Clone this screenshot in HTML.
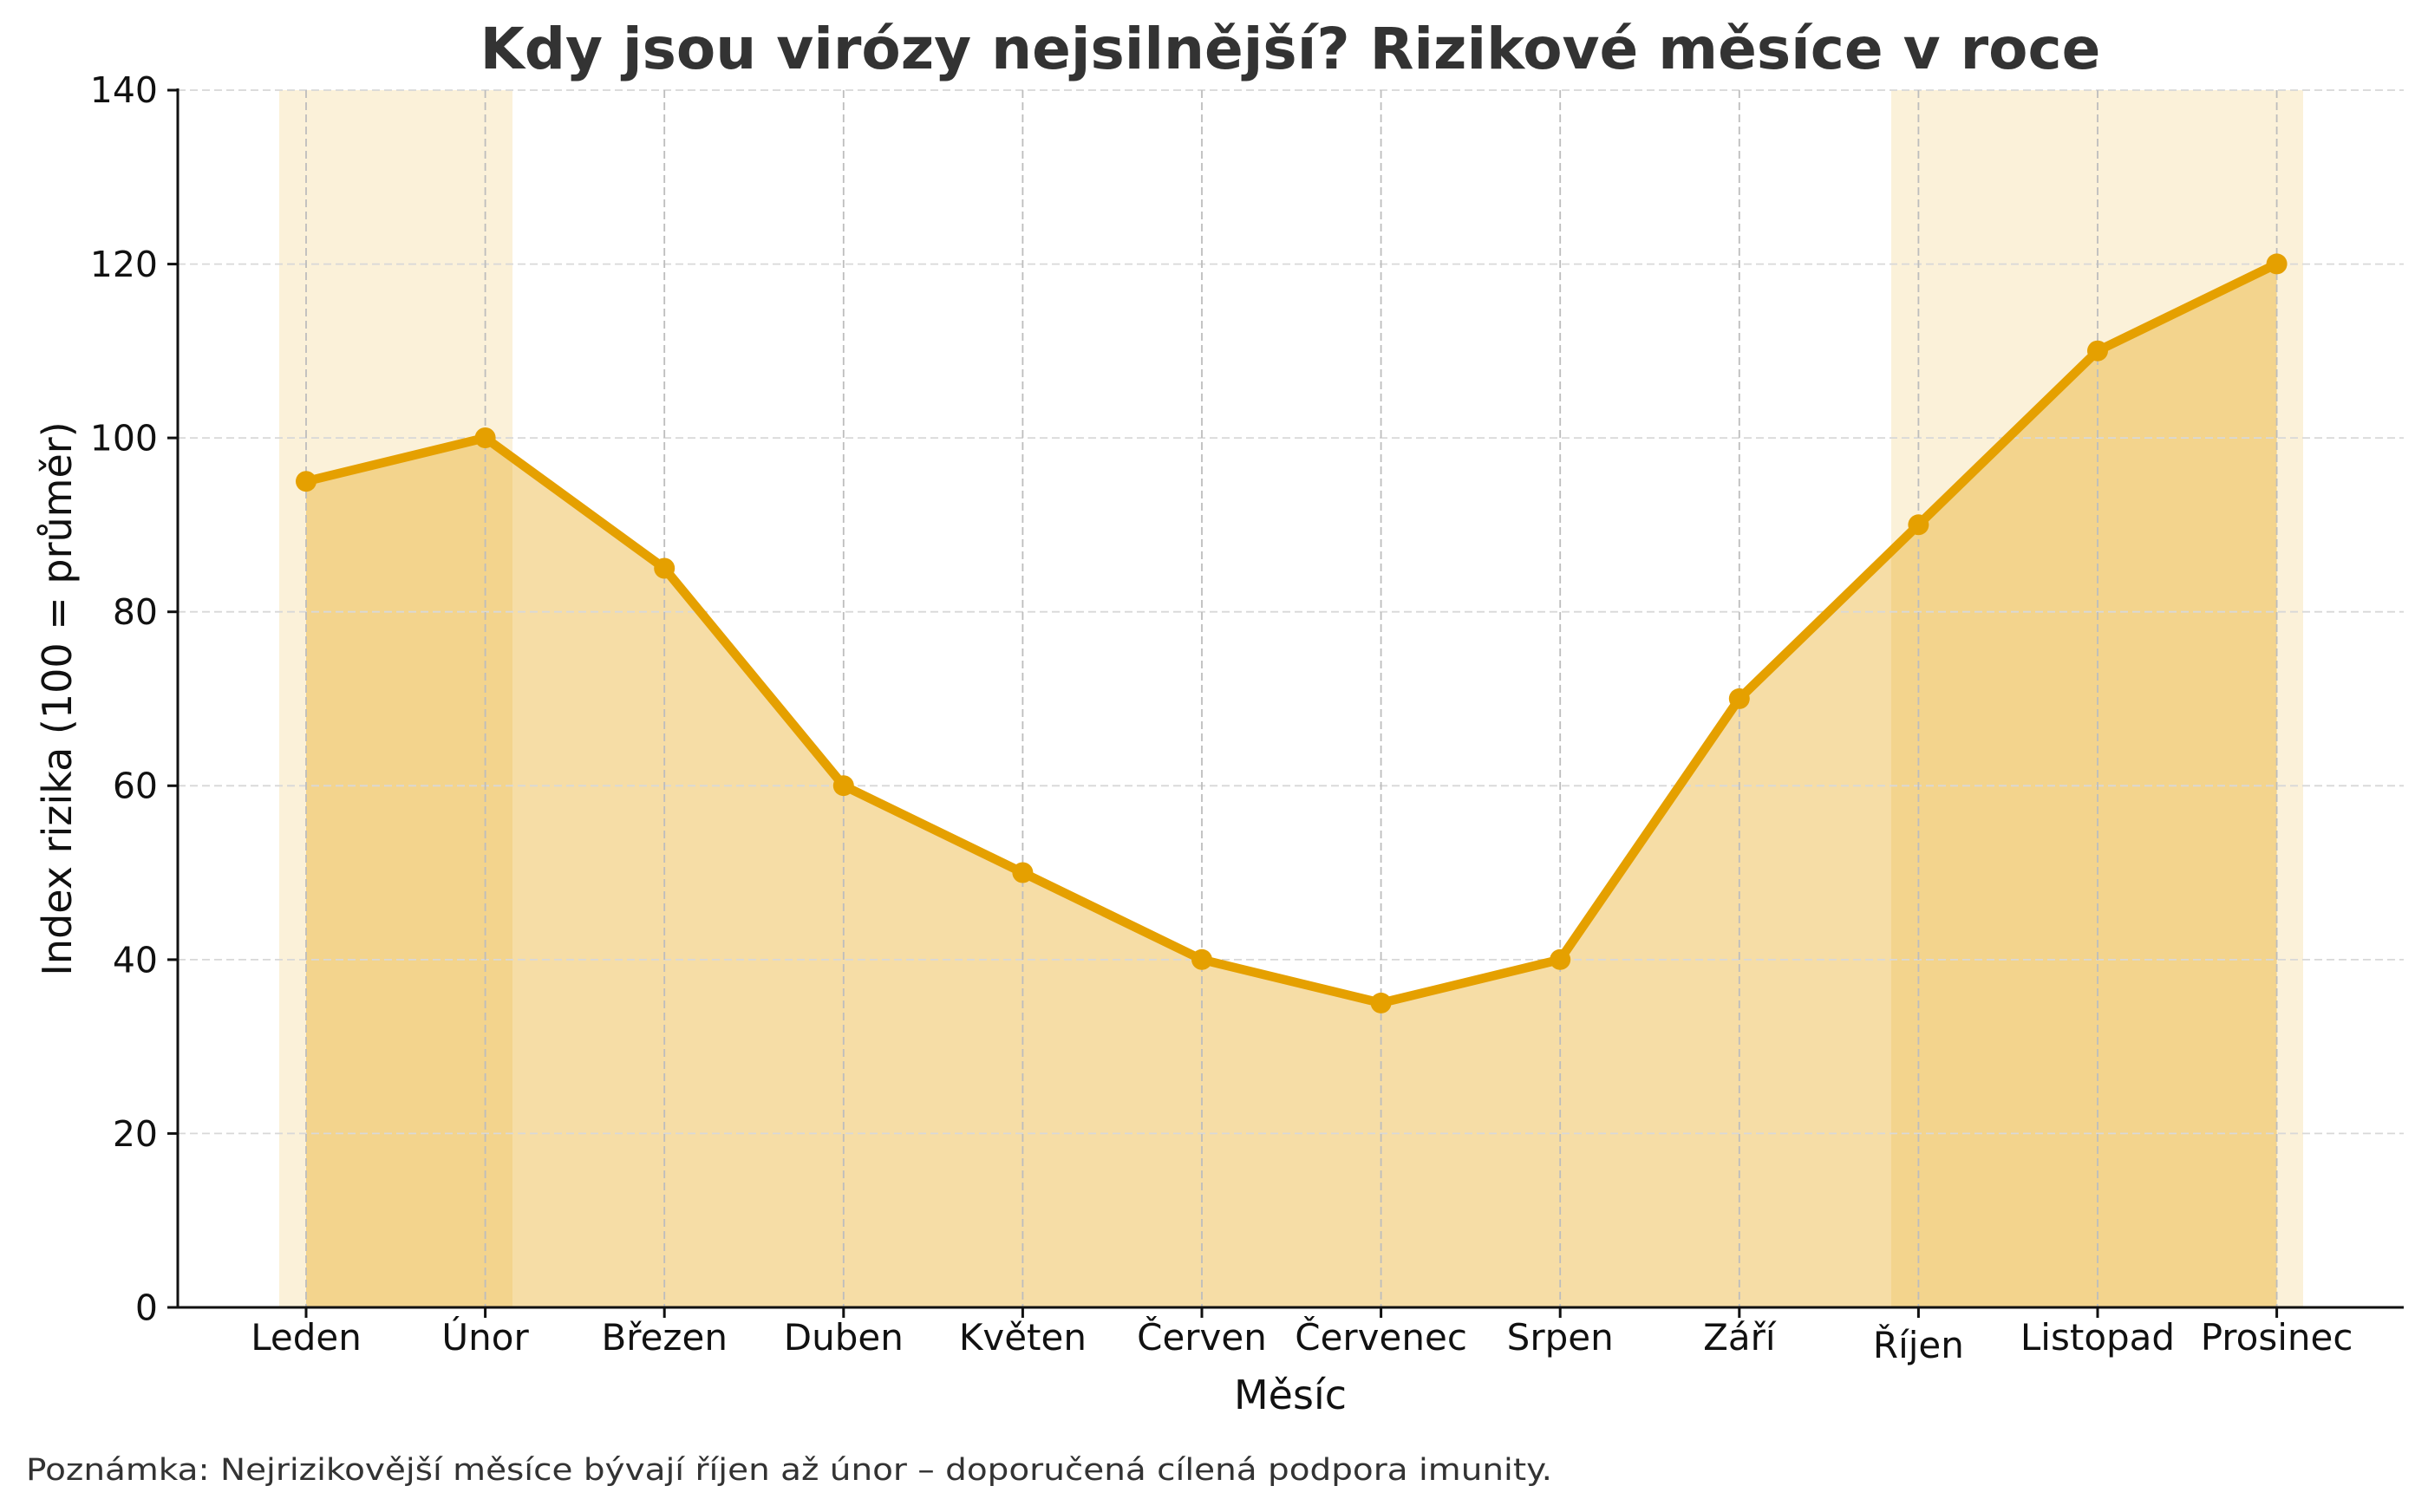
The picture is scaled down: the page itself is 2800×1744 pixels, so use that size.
<!DOCTYPE html>
<html><head><meta charset="utf-8"><style>
html,body{margin:0;padding:0;background:#fff;}
svg{display:block;font-family:"DejaVu Sans","Liberation Sans",sans-serif;}
</style></head><body>
<svg width="2800" height="1744" viewBox="0 0 2800 1744" xmlns="http://www.w3.org/2000/svg">
<rect width="2800" height="1744" fill="#fff"/>
<rect x="322" y="104" width="269" height="1404" fill="#e69f00" fill-opacity="0.15"/>
<rect x="2181" y="104" width="475" height="1404" fill="#e69f00" fill-opacity="0.15"/>
<polygon fill="#e69f00" fill-opacity="0.35" points="353,1508 353,555.2 559.6,505 766.2,655.5 972.8,906.2 1179.4,1006.5 1386,1106.8 1592.6,1156.9 1799.2,1106.8 2005.8,805.9 2212.4,605.3 2419,404.7 2625.6,304.4 2625.6,1508"/>
<g stroke="#d8d8d8" stroke-width="1.8" stroke-dasharray="9,5">
<line x1="205" x2="2772" y1="104" y2="104"/>
<line x1="205" x2="2772" y1="304.6" y2="304.6"/>
<line x1="205" x2="2772" y1="505.1" y2="505.1"/>
<line x1="205" x2="2772" y1="705.7" y2="705.7"/>
<line x1="205" x2="2772" y1="906.3" y2="906.3"/>
<line x1="205" x2="2772" y1="1106.9" y2="1106.9"/>
<line x1="205" x2="2772" y1="1307.4" y2="1307.4"/>
</g>
<g stroke="#bdbdbd" stroke-width="1.8" stroke-dasharray="9,5">
<line x1="353" x2="353" y1="104" y2="1508"/>
<line x1="559.6" x2="559.6" y1="104" y2="1508"/>
<line x1="766.2" x2="766.2" y1="104" y2="1508"/>
<line x1="972.8" x2="972.8" y1="104" y2="1508"/>
<line x1="1179.4" x2="1179.4" y1="104" y2="1508"/>
<line x1="1386" x2="1386" y1="104" y2="1508"/>
<line x1="1592.6" x2="1592.6" y1="104" y2="1508"/>
<line x1="1799.2" x2="1799.2" y1="104" y2="1508"/>
<line x1="2005.8" x2="2005.8" y1="104" y2="1508"/>
<line x1="2212.4" x2="2212.4" y1="104" y2="1508"/>
<line x1="2419" x2="2419" y1="104" y2="1508"/>
<line x1="2625.6" x2="2625.6" y1="104" y2="1508"/>
</g>
<polyline fill="none" stroke="#e5a000" stroke-width="10.5" stroke-linejoin="round" points="353,555.2 559.6,505 766.2,655.5 972.8,906.2 1179.4,1006.5 1386,1106.8 1592.6,1156.9 1799.2,1106.8 2005.8,805.9 2212.4,605.3 2419,404.7 2625.6,304.4"/>
<g fill="#e5a000">
<circle cx="353" cy="555.2" r="12"/><circle cx="559.6" cy="505" r="12"/><circle cx="766.2" cy="655.5" r="12"/><circle cx="972.8" cy="906.2" r="12"/><circle cx="1179.4" cy="1006.5" r="12"/><circle cx="1386" cy="1106.8" r="12"/><circle cx="1592.6" cy="1156.9" r="12"/><circle cx="1799.2" cy="1106.8" r="12"/><circle cx="2005.8" cy="805.9" r="12"/><circle cx="2212.4" cy="605.3" r="12"/><circle cx="2419" cy="404.7" r="12"/><circle cx="2625.6" cy="304.4" r="12"/>
</g>
<g stroke="#111" stroke-width="3">
<line x1="205" y1="102" x2="205" y2="1509.5"/>
<line x1="203.5" y1="1508" x2="2772" y2="1508"/>
<line x1="193" x2="205" y1="104" y2="104"/><line x1="193" x2="205" y1="304.6" y2="304.6"/><line x1="193" x2="205" y1="505.1" y2="505.1"/><line x1="193" x2="205" y1="705.7" y2="705.7"/><line x1="193" x2="205" y1="906.3" y2="906.3"/><line x1="193" x2="205" y1="1106.9" y2="1106.9"/><line x1="193" x2="205" y1="1307.4" y2="1307.4"/><line x1="193" x2="205" y1="1508" y2="1508"/>
<line x1="353" x2="353" y1="1508" y2="1520"/><line x1="559.6" x2="559.6" y1="1508" y2="1520"/><line x1="766.2" x2="766.2" y1="1508" y2="1520"/><line x1="972.8" x2="972.8" y1="1508" y2="1520"/><line x1="1179.4" x2="1179.4" y1="1508" y2="1520"/><line x1="1386" x2="1386" y1="1508" y2="1520"/><line x1="1592.6" x2="1592.6" y1="1508" y2="1520"/><line x1="1799.2" x2="1799.2" y1="1508" y2="1520"/><line x1="2005.8" x2="2005.8" y1="1508" y2="1520"/><line x1="2212.4" x2="2212.4" y1="1508" y2="1520"/><line x1="2419" x2="2419" y1="1508" y2="1520"/><line x1="2625.6" x2="2625.6" y1="1508" y2="1520"/>
</g>
<g font-size="41" fill="#111" text-anchor="end">
<text x="182" y="118">140</text><text x="182" y="319">120</text><text x="182" y="519.5">100</text><text x="182" y="720">80</text><text x="182" y="920.7">60</text><text x="182" y="1121.3">40</text><text x="182" y="1322">20</text><text x="182" y="1522.5">0</text>
</g>
<g font-size="42" fill="#111" text-anchor="middle">
<text x="353" y="1557">Leden</text><text x="559.6" y="1557">Únor</text><text x="766.2" y="1557">Březen</text><text x="972.8" y="1557">Duben</text><text x="1179.4" y="1557">Květen</text><text x="1386" y="1557">Červen</text><text x="1592.6" y="1557">Červenec</text><text x="1799.2" y="1557">Srpen</text><text x="2005.8" y="1557">Září</text><text x="2212.4" y="1566">Říjen</text><text x="2419" y="1557">Listopad</text><text x="2625.6" y="1557">Prosinec</text>
</g>
<text x="1488" y="1625" font-size="46" fill="#111" text-anchor="middle">Měsíc</text>
<text transform="translate(82,806) rotate(-90)" font-size="46" fill="#111" text-anchor="middle">Index rizika (100 = průměr)</text>
<text x="1488" y="79" font-size="66" font-weight="bold" fill="#333" text-anchor="middle">Kdy jsou virózy nejsilnější? Rizikové měsíce v roce</text>
<text x="30" y="1707" font-size="35" fill="#333" textLength="1760" lengthAdjust="spacingAndGlyphs">Poznámka: Nejrizikovější měsíce bývají říjen až únor – doporučená cílená podpora imunity.</text>
</svg>
</body></html>
